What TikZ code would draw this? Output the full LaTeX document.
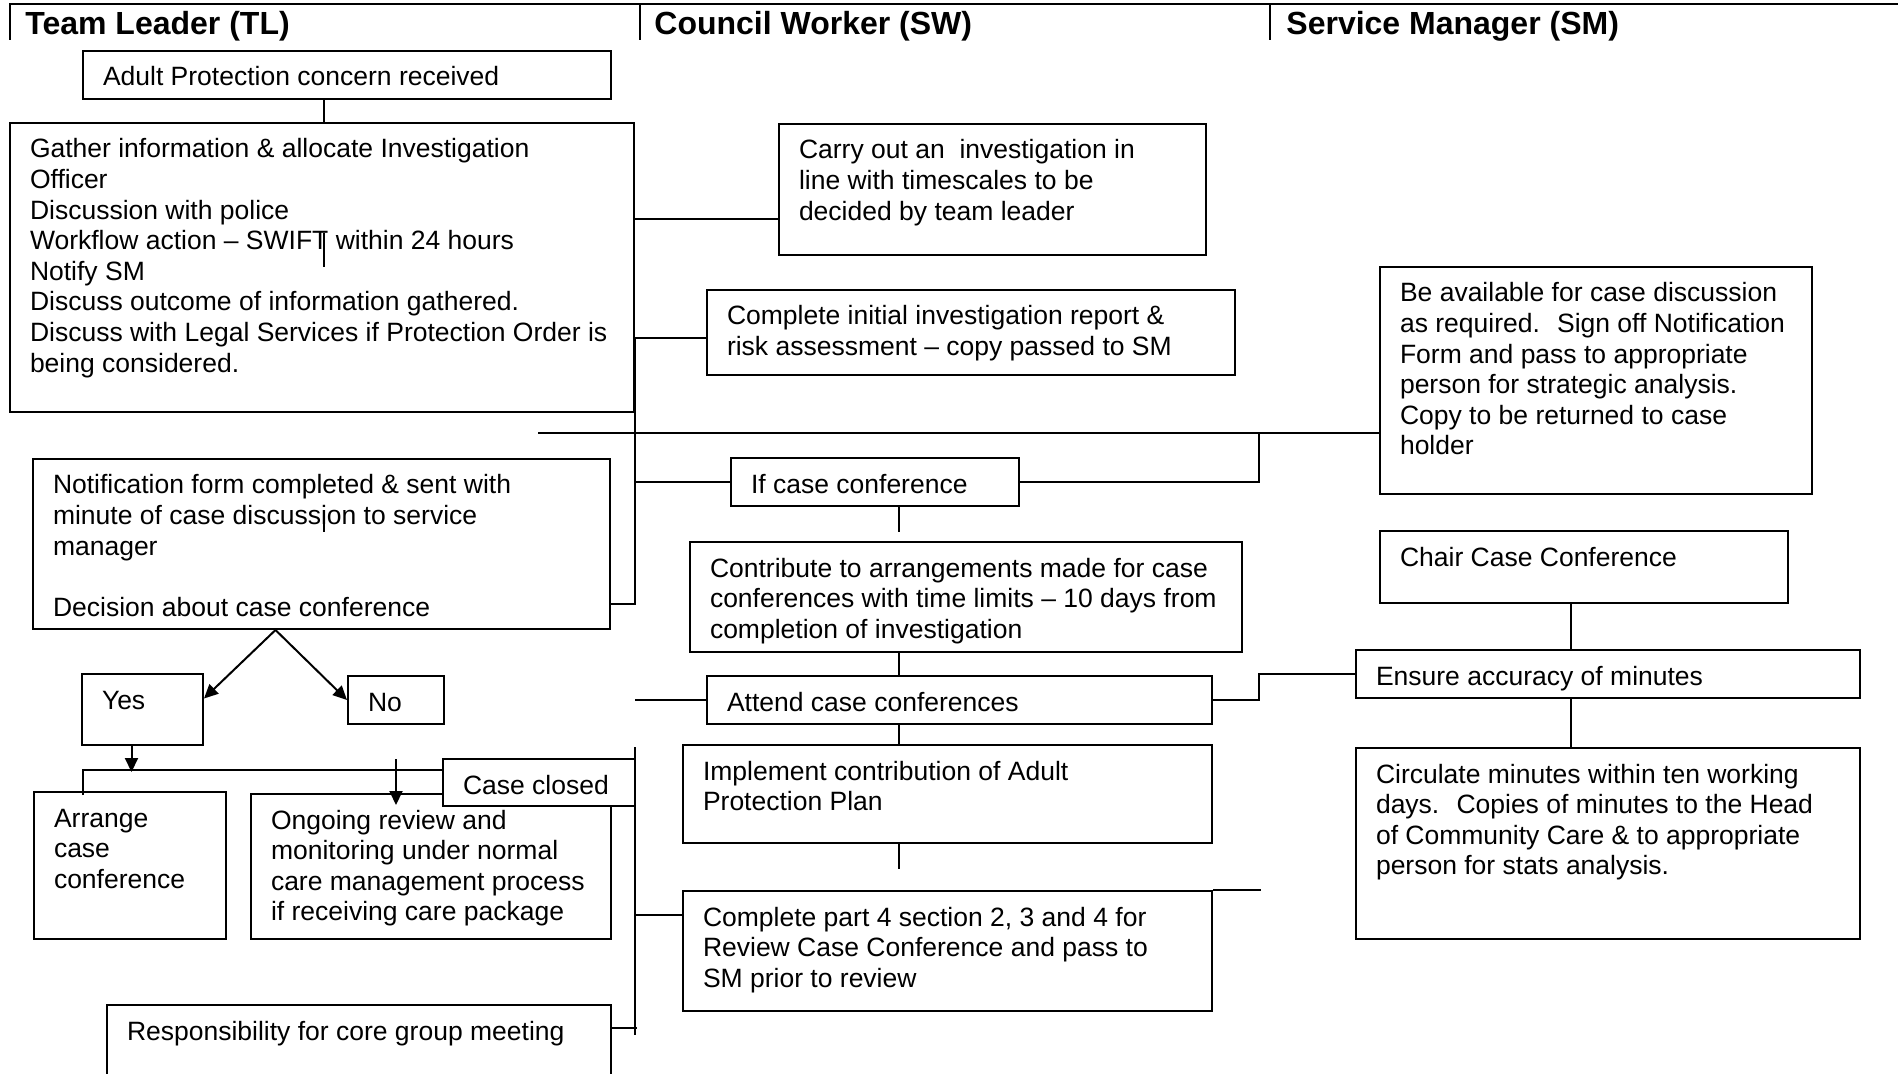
\documentclass[tikz,border=0pt]{standalone}
\usepackage{fontspec}
\setmainfont{Liberation Sans}
\usepackage{tikz}
\usetikzlibrary{arrows.meta,calc}
\tikzset{
  stepbox/.style={draw=black, line width=1pt, fill=white, anchor=north west,
    inner xsep=10pt, inner ysep=0pt, font=\fontsize{13.25}{15.3}\selectfont},
  lanehead/.style={anchor=base west, inner sep=0pt,
    font=\fontsize{16}{18}\selectfont\bfseries},
  link/.style={line width=1pt},
  flow/.style={link, -{Triangle[length=7pt, width=6.5pt]}}
}
\newcommand{\flowtext}[3]{\parbox[t][\dimexpr#2pt/2\relax][t]{\dimexpr#1pt/2-20pt\relax}{\rule{0pt}{17.5pt}\begin{tabular}[t]{@{}l@{}}#3\end{tabular}}}

\begin{document}
\begin{tikzpicture}[x=0.5pt, y=-0.5pt]
  \useasboundingbox (0,0) rectangle (1898,1074);
  \draw[link] (10,40) -- (10,4) -- (1898,4);
  \draw[link] (640,4) -- (640,40);
  \draw[link] (1270,4) -- (1270,40);
  \node[lanehead] (tlhead) at (25,35) {Team Leader (TL)};
  \node[lanehead] (swhead) at (654,35) {Council Worker (SW)};
  \node[lanehead] (smhead) at (1286,35) {Service Manager (SM)};

  \node[stepbox] (concern) at (82,50) {\flowtext{528}{48}{Adult Protection concern received}};
  \node[stepbox] (gather) at (9,122) {\flowtext{624}{289}{Gather information \& allocate Investigation\\Officer\\Discussion with police\\Workflow action – SWIFT within 24 hours\\Notify SM\\Discuss outcome of information gathered.\\Discuss with Legal Services if Protection Order is\\being considered.}};
  \node[stepbox] (carry) at (778,123) {\flowtext{427}{131}{Carry out an~ investigation in\\line with timescales to be\\decided by team leader}};
  \node[stepbox] (initrep) at (706,289) {\flowtext{528}{85}{Complete initial investigation report \&\\risk assessment – copy passed to SM}};
  \node[stepbox] (smbox) at (1379,266) {\flowtext{432}{227}{Be available for case discussion\\as required.~ Sign off Notification\\Form and pass to appropriate\\person for strategic analysis.\\Copy to be returned to case\\holder}};
  \node[stepbox] (notif) at (32,458) {\flowtext{577}{170}{Notification form completed \& sent with\\minute of case discussion to service\\manager\\ \\Decision about case conference}};
  \node[stepbox] (ifcc) at (730,457) {\flowtext{288}{48}{If case conference}};
  \node[stepbox] (contrib) at (689,541) {\flowtext{552}{110}{Contribute to arrangements made for case\\conferences with time limits – 10 days from\\completion of investigation}};
  \node[stepbox] (chair) at (1379,530) {\flowtext{408}{72}{Chair Case Conference}};
  \node[stepbox] (yes) at (81,673) {\flowtext{121}{71}{Yes}};
  \node[stepbox] (no) at (347,675) {\flowtext{96}{48}{No}};
  \node[stepbox] (attend) at (706,675) {\flowtext{505}{48}{Attend case conferences}};
  \node[stepbox] (ensure) at (1355,649) {\flowtext{504}{48}{Ensure accuracy of minutes}};
  \node[stepbox] (implement) at (682,744) {\flowtext{529}{98}{Implement contribution of Adult\\Protection Plan}};
  \node[stepbox] (circulate) at (1355,747) {\flowtext{504}{191}{Circulate minutes within ten working\\days.~ Copies of minutes to the Head\\of Community Care \& to appropriate\\person for stats analysis.}};
  \node[stepbox] (arrange) at (33,791) {\flowtext{192}{147}{Arrange\\case\\conference}};
  \node[stepbox] (ongoing) at (250,793) {\flowtext{360}{145}{Ongoing review and\\monitoring under normal\\care management process\\if receiving care package}};
  \node[stepbox] (closed) at (442,758) {\flowtext{192}{47}{Case closed}};
  \node[stepbox] (complete4) at (682,890) {\flowtext{529}{120}{Complete part 4 section 2, 3 and 4 for\\Review Case Conference and pass to\\SM prior to review}};
  \node[stepbox] (resp) at (106,1004) {\flowtext{504}{100}{Responsibility for core group meeting}};

  \coordinate (spine1) at (635,338);
  \coordinate (spine2) at (635,747);
  \coordinate (tlfree) at (538,433);
  \coordinate (smjoin) at (1259,433);
  \coordinate (swx) at (899,0);
  \coordinate (smx) at (1571,0);

  \draw[link] ([shift={(2,0)}]gather.north |- concern.south) -- ([shift={(2,0)}]gather.north);
  \draw[link] ([shift={(2,111)}]gather.north) -- ++(0,34);
  \draw[link] ([shift={(0,30)}]carry.west) -- ++(-145,0);
  \draw[link] (initrep.west |- spine1) -- (spine1) |- ([shift={(0,-26)}]notif.south east);
  \draw[link] (tlfree) -- (tlfree -| smbox.west);
  \draw[link] (ifcc.west) -- (ifcc.west -| spine1);
  \draw[link] (ifcc.east) -| (smjoin);
  \draw[link] ([shift={(2,52)}]notif.north) -- ++(0,22);

  \draw[link] (ifcc.south -| swx) -- ++(0,25);
  \draw[link] (contrib.south -| swx) -- (attend.north -| swx);
  \draw[link] (attend.south -| swx) -- (implement.north -| swx);
  \draw[link] (implement.south -| swx) -- ++(0,25);
  \draw[link] (attend.west) -- ++(-71,0);
  \draw[link] (attend.east) -| (smjoin |- ensure.west) -- (ensure.west);
  \draw[link] (complete4.north east) -- ++(48,0);
  \draw[link] (chair.south -| smx) -- (ensure.north -| smx);
  \draw[link] (ensure.south -| smx) -- (circulate.north -| smx);

  \draw[flow] ([shift={(-46,0)}]notif.south) -- ([shift={(0,-11)}]yes.east);
  \draw[flow] ([shift={(-46,0)}]notif.south) -- (no.west);
  \draw[flow] ([shift={(-11,0)}]yes.south) -- ++(0,26);
  \draw[link] ([shift={(50,4)}]arrange.north west) |- ([shift={(0,12)}]closed.north west);
  \draw[flow] ([shift={(-35,-34)}]ongoing.north) -- ++(0,46);

  \draw[link] (spine2) -- ++(0,288);
  \draw[link] ([shift={(0,-36)}]complete4.west) -- ++(-47,0);
  \draw[link] ([shift={(0,24)}]resp.north east) -- ++(25,0);
\end{tikzpicture}
\end{document}
